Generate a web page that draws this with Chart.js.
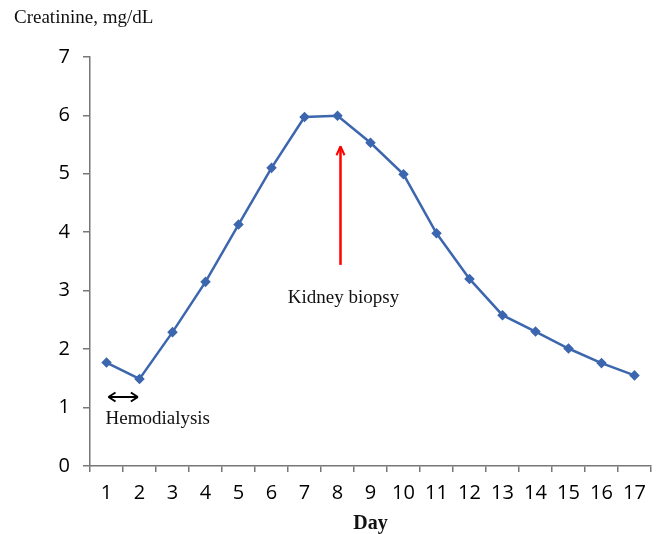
<!DOCTYPE html>
<html>
<head>
<meta charset="utf-8">
<script src="https://cdn.jsdelivr.net/npm/chart.js@4/dist/chart.umd.min.js"></script>
<style>
  html, body { margin: 0; padding: 0; background: #fff; }
  #wrap { width: 658px; height: 534px; }
</style>
</head>
<body>
<div id="wrap"><canvas id="chart"></canvas></div>
<script>
const days = ['1', '2', '3', '4', '5', '6', '7', '8', '9', '10', '11', '12', '13', '14', '15', '16', '17'];
const creatinine = [1.77, 1.49, 2.29, 3.15, 4.13, 5.1, 5.97, 5.99, 5.53, 4.99, 3.98, 3.2, 2.58, 2.3, 2.01, 1.76, 1.55];
const yTicks = [0, 1, 2, 3, 4, 5, 6, 7];

// annotations, in data units
const biopsyDay = 7;           // index of day 8
const biopsyArrow = [3.44, 5.47];
const biopsyText = 'Kidney biopsy';
const dialysisSpan = [0, 0.95];
const dialysisY = 1.18;
const dialysisText = 'Hemodialysis';

const serif = '"Liberation Serif", "Times New Roman", serif';
const sans = '"Open Sans", "DejaVu Sans", sans-serif';

function arrowHead(ctx, x, y, dx, dy, len, half) {
    const n = Math.hypot(dx, dy);
    const ux = dx / n, uy = dy / n;
    ctx.beginPath();
    ctx.moveTo(x, y);
    ctx.lineTo(x - ux * len - uy * half, y - uy * len + ux * half);
    ctx.moveTo(x, y);
    ctx.lineTo(x - ux * len + uy * half, y - uy * len - ux * half);
    ctx.stroke();
}

const notes = {
    id: 'notes',
    afterDatasetsDraw(chart) {
        const ctx = chart.ctx;
        const xs = chart.scales.x, ys = chart.scales.y;
        ctx.save();

        // red arrow at biopsy
        const bx = xs.getPixelForValue(biopsyDay) + 3;
        const y0 = ys.getPixelForValue(biopsyArrow[0]);
        const y1 = ys.getPixelForValue(biopsyArrow[1]);
        ctx.strokeStyle = '#ff0000';
        ctx.lineWidth = 2.5;
        ctx.beginPath();
        ctx.moveTo(bx, y0);
        ctx.lineTo(bx, y1 + 1);
        ctx.stroke();
        ctx.lineWidth = 2;
        arrowHead(ctx, bx, y1, 0, -1, 9, 4);

        ctx.fillStyle = '#111';
        ctx.font = '19px ' + serif;
        ctx.textAlign = 'center';
        ctx.textBaseline = 'middle';
        ctx.fillText(biopsyText, bx + 3, ys.getPixelForValue(2.87));

        // double arrow for hemodialysis
        const hx0 = xs.getPixelForValue(dialysisSpan[0]) + 2;
        const hx1 = xs.getPixelForValue(dialysisSpan[1]);
        const hy = ys.getPixelForValue(dialysisY);
        ctx.strokeStyle = '#000';
        ctx.lineWidth = 2;
        ctx.beginPath();
        ctx.moveTo(hx0, hy);
        ctx.lineTo(hx1, hy);
        ctx.stroke();
        arrowHead(ctx, hx0, hy, -1, 0, 7, 4.5);
        arrowHead(ctx, hx1, hy, 1, 0, 7, 4.5);

        ctx.textAlign = 'left';
        ctx.fillText(dialysisText, hx0 - 3, ys.getPixelForValue(0.8));
        ctx.restore();
    }
};

new Chart(document.getElementById('chart'), {
    type: 'line',
    data: {
        labels: days,
        datasets: [{
            label: 'Creatinine',
            data: creatinine,
            borderColor: '#3c66ae',
            backgroundColor: '#3c66ae',
            borderWidth: 2.5,
            pointStyle: 'rectRot',
            pointRadius: 3.5,
            tension: 0
        }]
    },
    options: {
        responsive: true,
        maintainAspectRatio: false,
        animation: false,
        layout: { padding: { left: 14, right: 7, top: 0, bottom: 0 } },
        plugins: {
            legend: { display: false },
            tooltip: { enabled: false },
            title: {
                display: true,
                text: 'Creatinine, mg/dL',
                align: 'start',
                color: '#111',
                font: { family: serif, size: 19, weight: 'normal' },
                padding: { top: 7, bottom: 27 }
            }
        },
        scales: {
            x: {
                offset: true,
                grid: { offset: true, drawOnChartArea: false, tickLength: 6, color: '#777', lineWidth: 1.5 },
                border: { color: '#777', width: 1.5 },
                ticks: { color: '#000', font: { family: sans, size: 20, lineHeight: 1 }, padding: 11, maxRotation: 0, autoSkip: false },
                title: {
                    display: true,
                    text: 'Day',
                    color: '#111',
                    font: { family: serif, size: 20, weight: 'bold', lineHeight: 1 },
                    padding: { top: 0, bottom: 0 }
                }
            },
            y: {
                min: 0,
                max: 7,
                afterBuildTicks(axis) { axis.ticks = yTicks.map(v => ({ value: v })); },
                afterFit(axis) { axis.width = 76; },
                grid: { drawOnChartArea: false, tickLength: 7, color: '#777', lineWidth: 1.5 },
                border: { color: '#777', width: 1.5 },
                ticks: { color: '#000', font: { family: sans, size: 20 }, padding: 13 }
            }
        }
    },
    plugins: [notes]
});
</script>
</body>
</html>
